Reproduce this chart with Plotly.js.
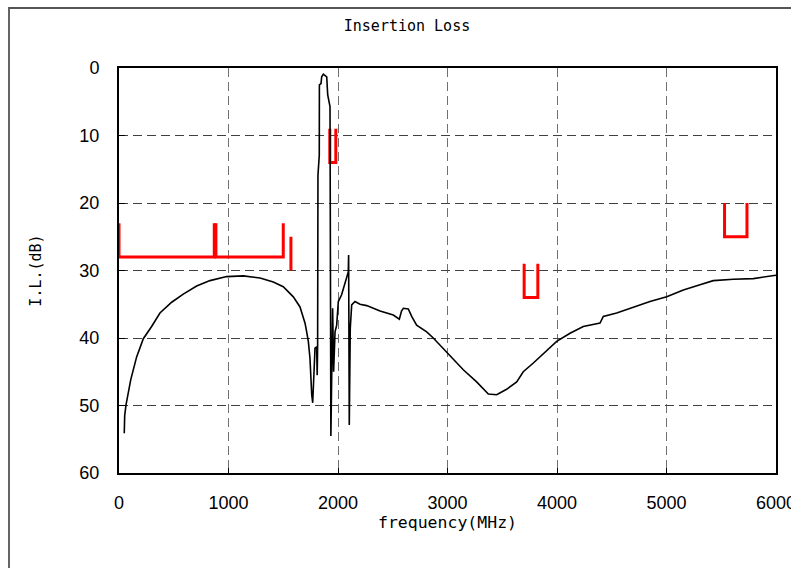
<!DOCTYPE html>
<html>
<head>
<meta charset="utf-8">
<script src="https://cdn.plot.ly/plotly-3.0.1.min.js"></script>
<style>
html,body{margin:0;padding:0;background:#fff;}
#chart{width:791px;height:568px;}
</style>
</head>
<body>
<div id="chart"></div>
<script>
// Measured insertion loss
var freq = [48,52,64,107,161,222,298,374,481,587,709,831,983,1135,1288,1409,1500,1592,1653,1683,1699,1714,1729,1744,1753,1760,1769,1775,1790,1805,1810,1814,1817,1829,1830,1845,1851,1866,1888,1897,1906,1921,1927,1935,1942,1951,1960,1973,1988,2003,2033,2064,2094,2097,2103,2112,2125,2155,2201,2262,2384,2505,2560,2580,2597,2642,2673,2718,2810,2870,3007,3144,3266,3373,3449,3540,3632,3692,3784,3875,3997,4119,4240,4393,4423,4545,4697,4849,5002,5154,5306,5427,5610,5793,6000];
var il = [54.1,51.5,49.9,46.2,42.8,40.1,38.3,36.3,34.7,33.5,32.3,31.5,30.9,30.8,31.1,31.7,32.4,33.9,35.4,37.0,37.8,39.1,40.5,43.0,46.5,48.4,49.6,47.5,41.5,41.3,45.5,41.0,15.9,12.9,2.5,2.3,1.3,0.9,1.3,1.3,4.0,5.2,5.7,54.5,45.5,35.6,45.0,39.1,38.1,34.6,33.6,31.7,30.2,27.7,52.9,38.6,35.1,34.6,35.0,35.2,36.0,36.6,37.2,36.0,35.6,35.7,36.8,38.1,39.1,40.0,42.3,44.7,46.5,48.3,48.4,47.6,46.5,45.0,43.7,42.3,40.5,39.3,38.3,37.8,36.8,36.3,35.4,34.6,33.9,32.9,32.1,31.5,31.3,31.2,30.7];

// Specification masks (red)
var maskAx = [0,0,870,870],        maskAy = [23,28,28,23];
var maskBx = [885,885,1500,1500],  maskBy = [23,28,28,23];
var maskCx = [1570,1570],          maskCy = [25,30];
var maskDx = [1925,1925,1980,1980], maskDy = [9,14,14,9];
var maskEx = [3700,3700,3825,3825], maskEy = [29,34,34,29];
var maskFx = [5530,5530,5735,5735], maskFy = [20,25,25,20];

var xTicks = [0,1000,2000,3000,4000,5000,6000];
var yTicks = [0,10,20,30,40,50,60];

var FONT = 'Liberation Sans, Arial, sans-serif';
var MONO = 'DejaVu Sans Mono, Liberation Mono, monospace';
var red = {color:'#ff0000', width:3};

function maskTrace(x,y){
  return {x:x, y:y, type:'scatter', mode:'lines', line:red, hoverinfo:'skip', showlegend:false, cliponaxis:false};
}

var traces = [
  maskTrace(maskAx,maskAy), maskTrace(maskBx,maskBy), maskTrace(maskCx,maskCy),
  maskTrace(maskDx,maskDy), maskTrace(maskEx,maskEy), maskTrace(maskFx,maskFy),
  {x:freq, y:il, type:'scatter', mode:'lines', line:{color:'#000000', width:1.6}, showlegend:false}
];

var layout = {
  width:791, height:568,
  margin:{l:119, r:15, t:68, b:95},
  paper_bgcolor:'#ffffff', plot_bgcolor:'#ffffff',
  font:{family:FONT, size:18, color:'#000'},
  showlegend:false,
  title:{text:'Insertion Loss', font:{family:MONO, size:15, color:'#000'},
         x:407/791, xref:'container', xanchor:'center', y:1-26/568, yref:'container', yanchor:'middle'},
  xaxis:{
    range:[0,6000], tickvals:xTicks, ticktext:xTicks.map(String),
    showgrid:true, gridcolor:'#707070', gridwidth:1, griddash:'9px,5px',
    showline:true, linecolor:'#000', linewidth:2, mirror:true,
    ticks:'inside', ticklen:5, tickcolor:'#000',
    ticklabelstandoff:12, ticklabeloverflow:'allow', zeroline:false,
    tickfont:{family:FONT, size:18},
    title:{text:'frequency(MHz)', font:{family:MONO, size:16.5}, standoff:2}
  },
  yaxis:{
    range:[60,0], tickvals:yTicks, ticktext:yTicks.map(String),
    showgrid:true, gridcolor:'#404040', gridwidth:1, griddash:'9px,5px',
    showline:true, linecolor:'#000', linewidth:2, mirror:true,
    ticks:'inside', ticklen:6, tickcolor:'#000',
    ticklabelstandoff:14, ticklabeloverflow:'allow', zeroline:false,
    tickfont:{family:FONT, size:18},
    title:{text:'I.L.(dB)', font:{family:MONO, size:15}, standoff:34}
  },
  shapes:[
    {type:'rect', xref:'paper', yref:'paper', x0:(9-119)/657, x1:1.2, y0:-0.4, y1:(473-8)/405,
     line:{color:'#555', width:1.8}, fillcolor:'rgba(0,0,0,0)', layer:'below'}
  ]
};

Plotly.newPlot('chart', traces, layout, {displayModeBar:false, staticPlot:true});
</script>
</body>
</html>
